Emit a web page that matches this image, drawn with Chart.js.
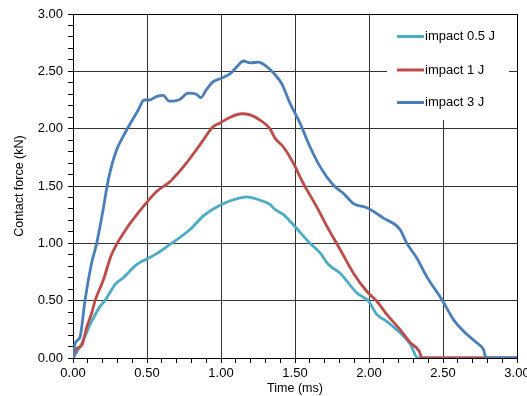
<!DOCTYPE html>
<html>
<head>
<meta charset="utf-8">
<script src="https://cdn.jsdelivr.net/npm/chart.js@4.4.1/dist/chart.umd.min.js"></script>
<style>
	html, body { margin: 0; padding: 0; background: #fff; }
	#wrap { width: 527px; height: 396px; }
</style>
</head>
<body>
<div id="wrap"><canvas id="chart" width="527" height="396"></canvas></div>
<script>
// values (time in ms, force in kN)
var seriesLabels = ["impact 0.5 J", "impact 1 J", "impact 3 J"];
var seriesColors = ["#4BACC6", "#BE4B48", "#4A7EBB"];

var timeHalfJ  = [0, 0.059, 0.115, 0.183, 0.216, 0.284, 0.34, 0.43, 0.498, 0.566, 0.656, 0.791, 0.881, 0.994, 1.084, 1.174, 1.264, 1.33, 1.366, 1.422, 1.49, 1.602, 1.67, 1.726, 1.805, 1.918, 1.997, 2.053, 2.12, 2.21, 2.279, 2.33, 3.0];
var forceHalfJ = [0, 0.126, 0.29, 0.45, 0.50, 0.64, 0.70, 0.815, 0.864, 0.91, 0.99, 1.12, 1.24, 1.333, 1.38, 1.405, 1.376, 1.34, 1.295, 1.25, 1.16, 1.00, 0.916, 0.815, 0.74, 0.567, 0.495, 0.38, 0.32, 0.22, 0.12, 0, 0];

var timeOneJ  = [0, 0.025, 0.059, 0.093, 0.126, 0.149, 0.205, 0.26, 0.362, 0.407, 0.462, 0.563, 0.654, 0.676, 0.766, 0.856, 0.947, 0.994, 1.062, 1.14, 1.197, 1.264, 1.33, 1.366, 1.422, 1.49, 1.557, 1.647, 1.715, 1.805, 1.895, 1.986, 2.053, 2.12, 2.21, 2.279, 2.34, 2.357, 3.0];
var forceOneJ = [0, 0.08, 0.11, 0.27, 0.39, 0.50, 0.68, 0.90, 1.13, 1.21, 1.30, 1.45, 1.536, 1.565, 1.70, 1.856, 2.016, 2.05, 2.10, 2.13, 2.12, 2.074, 2.00, 1.915, 1.84, 1.696, 1.52, 1.318, 1.15, 0.946, 0.74, 0.58, 0.495, 0.38, 0.248, 0.134, 0.058, 0, 0];

var timeThreeJ  = [0, 0.014, 0.047, 0.059, 0.081, 0.126, 0.16, 0.203, 0.225, 0.248, 0.293, 0.338, 0.394, 0.44, 0.48, 0.518, 0.563, 0.609, 0.649, 0.721, 0.778, 0.834, 0.863, 0.901, 0.947, 1.003, 1.062, 1.107, 1.152, 1.197, 1.253, 1.31, 1.366, 1.411, 1.467, 1.535, 1.602, 1.67, 1.76, 1.828, 1.895, 1.986, 2.098, 2.21, 2.256, 2.324, 2.39, 2.497, 2.571, 2.639, 2.73, 2.775, 2.79, 3.0];
var forceThreeJ = [0, 0.126, 0.18, 0.27, 0.50, 0.83, 1.0, 1.29, 1.46, 1.61, 1.81, 1.93, 2.06, 2.16, 2.25, 2.25, 2.28, 2.29, 2.24, 2.255, 2.31, 2.30, 2.27, 2.34, 2.41, 2.44, 2.48, 2.54, 2.59, 2.574, 2.58, 2.54, 2.47, 2.39, 2.22, 2.045, 1.84, 1.667, 1.507, 1.435, 1.347, 1.31, 1.22, 1.12, 1.00, 0.87, 0.71, 0.50, 0.335, 0.233, 0.13, 0.07, 0, 0];

var xTitle = "Time (ms)";
var yTitle = "Contact force (kN)";

function toPoints(xs, ys) {
	var pts = [];
	for (var i = 0; i < xs.length; i++) {
		pts.push({x: xs[i], y: ys[i]});
	}
	return pts;
}

function isMajor(v) {
	return Math.abs(v * 2 - Math.round(v * 2)) < 1e-6;
}

var FONT = "'Liberation Sans', Arial, sans-serif";

// white legend box inside the plot, drawn over the grid
var boxLegend = {
	id: "boxLegend",
	afterDraw: function(chart) {
		var ctx = chart.ctx;
		var sets = chart.data.datasets;
		ctx.save();
		ctx.fillStyle = "#fff";
		ctx.fillRect(387, 15, 122, 105);
		ctx.font = "13px " + FONT;
		ctx.textBaseline = "middle";
		ctx.textAlign = "left";
		var rows = [36.5, 70, 102.5];
		for (var i = 0; i < sets.length; i++) {
			ctx.strokeStyle = sets[i].borderColor;
			ctx.lineWidth = 3;
			ctx.beginPath();
			ctx.moveTo(397, rows[i]);
			ctx.lineTo(424, rows[i]);
			ctx.stroke();
			ctx.fillStyle = "#000";
			ctx.fillText(sets[i].label, 425, rows[i]);
		}
		ctx.restore();
	}
};

var datasets = [
	{ label: seriesLabels[0], data: toPoints(timeHalfJ, forceHalfJ), borderColor: seriesColors[0], order: 3 },
	{ label: seriesLabels[1], data: toPoints(timeOneJ, forceOneJ), borderColor: seriesColors[1], order: 2 },
	{ label: seriesLabels[2], data: toPoints(timeThreeJ, forceThreeJ), borderColor: seriesColors[2], order: 1 }
];
datasets.forEach(function(d) {
	d.showLine = true;
	d.pointRadius = 0;
	d.borderWidth = 2.8;
	d.cubicInterpolationMode = "monotone";
	d.fill = false;
	d.backgroundColor = d.borderColor;
});

new Chart(document.getElementById("chart").getContext("2d"), {
	type: "scatter",
	data: { datasets: datasets },
	options: {
		responsive: false,
		animation: false,
		events: [],
		layout: { padding: { top: 14, right: 10, left: 0, bottom: 0 } },
		plugins: {
			legend: { display: false },
			tooltip: { enabled: false }
		},
		scales: {
			x: {
				type: "linear",
				min: 0,
				max: 3,
				afterFit: function(s) { s.height = 38; s.paddingLeft = 0; s.paddingRight = 0; },
				border: { color: "#000", width: 1 },
				grid: {
					color: function(c) {
						if (!c.tick) return "rgba(0,0,0,0)";
						if (c.tick.value >= 3 - 1e-6) return "#000";
						return isMajor(c.tick.value) ? "#333" : "rgba(0,0,0,0)";
					},
					tickColor: "#000",
					tickLength: 5
				},
				ticks: {
					stepSize: 0.1,
					autoSkip: false,
					maxRotation: 0,
					padding: 3,
					color: "#000",
					font: { family: FONT, size: 13 },
					callback: function(v) { return isMajor(v) ? Number(v).toFixed(2) : ""; }
				},
				title: {
					display: true,
					text: xTitle,
					color: "#000",
					font: { family: FONT, size: 12.5 },
					padding: { top: 0, bottom: 0 }
				}
			},
			y: {
				type: "linear",
				min: 0,
				max: 3,
				afterFit: function(s) { s.width = 73; s.paddingTop = 0; s.paddingBottom = 0; },
				border: { color: "#000", width: 1 },
				grid: {
					color: function(c) {
						if (!c.tick) return "rgba(0,0,0,0)";
						if (c.tick.value >= 3 - 1e-6) return "#000";
						return isMajor(c.tick.value) ? "#333" : "rgba(0,0,0,0)";
					},
					tickColor: "#000",
					tickLength: 5
				},
				ticks: {
					stepSize: 0.1,
					autoSkip: false,
					padding: 5,
					color: "#000",
					font: { family: FONT, size: 13 },
					callback: function(v) { return isMajor(v) ? Number(v).toFixed(2) : ""; }
				},
				title: {
					display: true,
					text: yTitle,
					color: "#000",
					font: { family: FONT, size: 12.5 },
					padding: { top: 12, bottom: 0 }
				}
			}
		}
	},
	plugins: [boxLegend]
});
</script>
</body>
</html>
